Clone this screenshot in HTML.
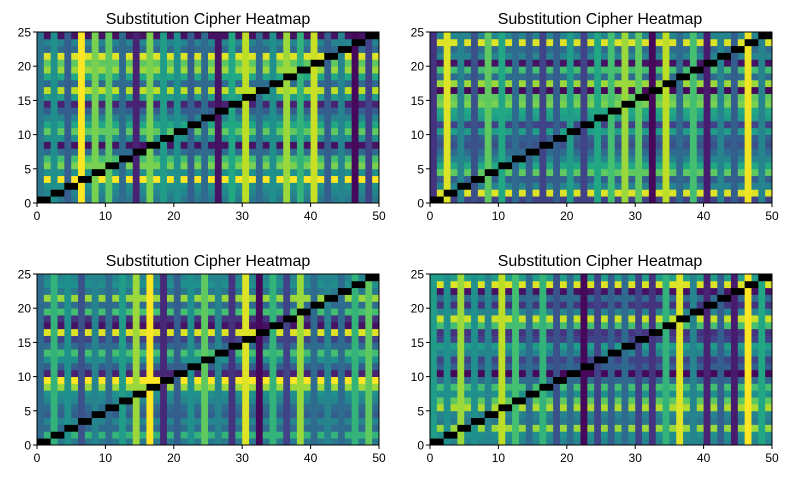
<!DOCTYPE html>
<html><head><meta charset="utf-8"><style>
html,body{margin:0;padding:0;background:#fff;}
svg{display:block;font-family:"Liberation Sans","DejaVu Sans",sans-serif;}
</style></head><body>
<svg id="s" width="790" height="479" xmlns="http://www.w3.org/2000/svg">
<text x="208" y="24" font-size="16" text-anchor="middle" fill="#000">Substitution Cipher Heatmap</text>
<text x="600" y="24" font-size="16" text-anchor="middle" fill="#000">Substitution Cipher Heatmap</text>
<text x="208" y="266" font-size="16" text-anchor="middle" fill="#000">Substitution Cipher Heatmap</text>
<text x="600" y="266" font-size="16" text-anchor="middle" fill="#000">Substitution Cipher Heatmap</text>
</svg>
<script>
var V=[[68,1,84],[72,35,116],[64,67,135],[52,94,141],[41,120,142],[32,144,140],[34,167,132],[68,190,112],[121,209,81],[189,222,38],[253,231,37]];
function vir(t){t=Math.max(0,Math.min(1,t))*10;var i=Math.min(9,Math.floor(t)),f=t-i;var a=V[i],b=V[i+1];
return 'rgb('+[0,1,2].map(function(k){return Math.round(a[k]+(b[k]-a[k])*f)}).join(',')+')';}
var P=[
{x:37,y:32,c:[0.4,0.5,0.3,1.0,0.8,0.75,0.35,0.1,0.8,0.55,0.5,0.3,0.35,0.05,0.6,0.9,0.35,0.5,0.85,0.65,0.92,0.3,0.45,0.02,0.2],
 r:[0.4,0.45,0.5,1.0,0.5,0.8,0.7,0.35,0.05,0.5,0.75,0.6,0.45,0.3,0.1,0.55,0.9,0.35,0.6,0.85,0.75,0.95,0.35,0.45,0.05]},
{x:430,y:32,c:[0.15,0.95,0.45,0.25,0.75,0.6,0.35,0.3,0.2,0.3,0.55,0.2,0.6,0.7,0.85,0.75,0.02,0.9,0.35,0.7,0.08,0.45,0.3,0.98,0.45],
 r:[0.2,0.95,0.45,0.3,0.75,0.6,0.45,0.35,0.25,0.3,0.55,0.2,0.55,0.6,0.8,0.75,0.02,0.85,0.35,0.7,0.05,0.45,0.35,0.95,0.45]},
{x:37,y:274,c:[0.35,0.65,0.5,0.25,0.45,0.35,0.55,0.85,1.0,0.12,0.3,0.5,0.75,0.45,0.15,0.95,0.02,0.65,0.2,0.85,0.35,0.45,0.35,0.65,0.75],
 r:[0.4,0.65,0.35,0.45,0.3,0.35,0.45,0.5,0.85,1.0,0.1,0.3,0.5,0.7,0.35,0.2,0.95,0.05,0.15,0.7,0.35,0.85,0.4,0.5,0.45]},
{x:430,y:274,c:[0.55,0.5,0.85,0.5,0.45,0.9,0.7,0.35,0.65,0.25,0.35,0.02,0.2,0.3,0.35,0.2,0.15,0.65,0.95,0.45,0.1,0.3,0.08,1.0,0.6],
 r:[0.45,0.5,0.85,0.4,0.45,0.88,0.75,0.5,0.7,0.35,0.02,0.3,0.2,0.45,0.55,0.2,0.15,0.7,0.92,0.45,0.15,0.35,0.05,0.95,0.55]}];
var W=342,H=171,s='';
P.forEach(function(p){
 var cw=W/50,ch=H/25;
 for(var i=0;i<25;i++)for(var j=0;j<50;j++){
  var col;
  if((j>>1)==i)col='#000';else col=vir(j%2==0?p.c[j>>1]:p.r[i]);
  s+='<rect x="'+(p.x+j*cw).toFixed(2)+'" y="'+(p.y+H-(i+1)*ch).toFixed(2)+'" width="'+(cw+0.4).toFixed(2)+'" height="'+(ch+0.4).toFixed(2)+'" fill="'+col+'"/>';
 }
 s+='<rect x="'+p.x+'" y="'+p.y+'" width="'+W+'" height="'+H+'" fill="none" stroke="#000" stroke-width="1"/>';
 for(var k=0;k<=5;k++){var tx=p.x+k*W/5;
  s+='<line x1="'+tx+'" y1="'+(p.y+H)+'" x2="'+tx+'" y2="'+(p.y+H+4)+'" stroke="#000"/>';
  s+='<text x="'+tx+'" y="'+(p.y+H+17)+'" font-size="12" text-anchor="middle">'+(k*10)+'</text>';}
 for(var k=0;k<=5;k++){var ty=p.y+H-k*H/5;
  s+='<line x1="'+(p.x-4)+'" y1="'+ty+'" x2="'+p.x+'" y2="'+ty+'" stroke="#000"/>';
  s+='<text x="'+(p.x-6)+'" y="'+(ty+4.5)+'" font-size="12" text-anchor="end">'+(k*5)+'</text>';}
});
document.getElementById('s').insertAdjacentHTML('beforeend',s);
</script>
</body></html>
